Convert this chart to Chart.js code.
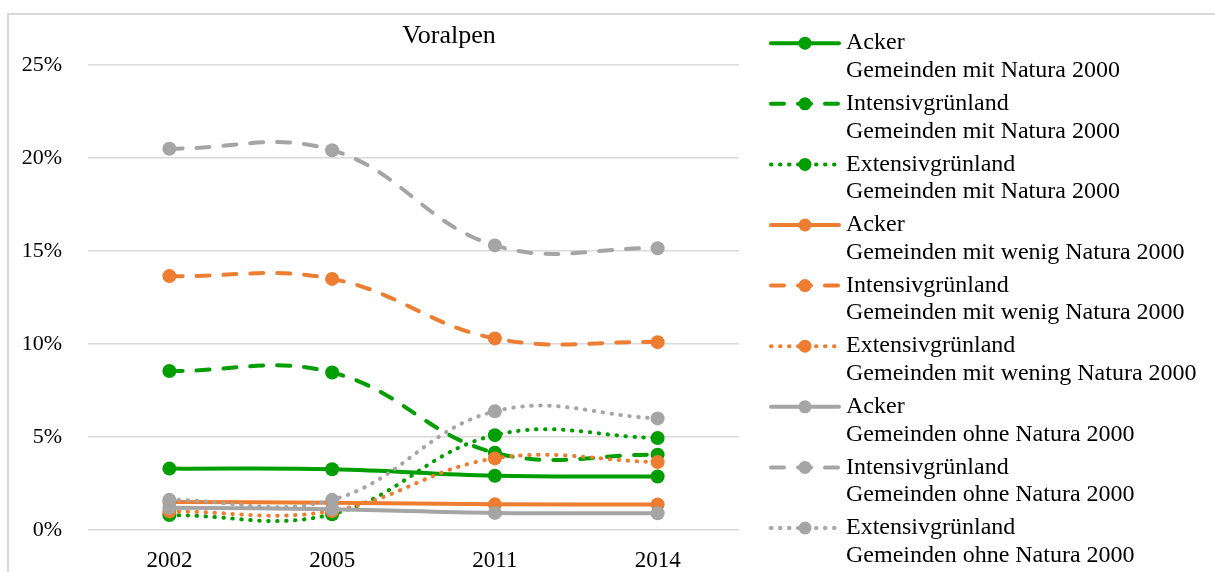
<!DOCTYPE html>
<html>
<head>
<meta charset="utf-8">
<script src="https://cdn.jsdelivr.net/npm/chart.js@4.4.1/dist/chart.umd.min.js"></script>
<style>
  html, body { margin: 0; padding: 0; background: #fff; }
  #wrap { width: 1215px; height: 572px; }
</style>
</head>
<body>
<div id="wrap"><canvas id="chart" width="1215" height="572"></canvas></div>
<script>
// categories and values (percent)
const years = ['2002', '2005', '2011', '2014'];

const ackerMit = [3.3, 3.27, 2.92, 2.88];
const intensivMit = [8.55, 8.47, 4.15, 4.05];
const extensivMit = [0.8, 0.85, 5.1, 4.95];

const ackerWenig = [1.5, 1.47, 1.38, 1.37];
const intensivWenig = [13.65, 13.5, 10.3, 10.1];
const extensivWenig = [1.0, 1.02, 3.85, 3.65];

const ackerOhne = [1.2, 1.12, 0.92, 0.9];
const intensivOhne = [20.5, 20.42, 15.3, 15.15];
const extensivOhne = [1.62, 1.62, 6.38, 6.0];

const seriesNames = [
  ['Acker', 'Gemeinden mit Natura 2000'],
  ['Intensivgrünland', 'Gemeinden mit Natura 2000'],
  ['Extensivgrünland', 'Gemeinden mit Natura 2000'],
  ['Acker', 'Gemeinden mit wenig Natura 2000'],
  ['Intensivgrünland', 'Gemeinden mit wenig Natura 2000'],
  ['Extensivgrünland', 'Gemeinden mit wening Natura 2000'],
  ['Acker', 'Gemeinden ohne Natura 2000'],
  ['Intensivgrünland', 'Gemeinden ohne Natura 2000'],
  ['Extensivgrünland', 'Gemeinden ohne Natura 2000']
];
const seriesValues = [
  ackerMit, intensivMit, extensivMit,
  ackerWenig, intensivWenig, extensivWenig,
  ackerOhne, intensivOhne, extensivOhne
];
const chartTitle = 'Voralpen';

const GREEN = '#009e00';
const ORANGE = '#ed7d31';
const GRAY = '#a5a5a5';
const colors = [GREEN, ORANGE, GRAY];
const dashes = [[], [13, 14], [0.5, 8.5]];
const FONT = '"Liberation Serif", "Times New Roman", serif';

const datasets = seriesValues.map(function (vals, i) {
  const color = colors[Math.floor(i / 3)];
  return {
    label: seriesNames[i].join(' '),
    data: vals,
    borderColor: color,
    backgroundColor: color,
    borderWidth: 4,
    borderDash: dashes[i % 3],
    borderCapStyle: 'round',
    borderJoinStyle: 'round',
    tension: 0.4,
    pointRadius: 7,
    pointHoverRadius: 7,
    pointBorderWidth: 0,
    pointBackgroundColor: color,
    order: 8 - i,
    fill: false
  };
});

// frame, title and the two-line legend on the right
const decorations = {
  id: 'decorations',
  beforeDraw(chart) {
    const ctx = chart.ctx;
    ctx.save();
    ctx.fillStyle = '#fff';
    ctx.fillRect(0, 0, chart.width, chart.height);
    ctx.strokeStyle = '#d9d9d9';
    ctx.lineWidth = 2;
    ctx.strokeRect(8, 14, 1400, 800);
    ctx.restore();
  },
  afterDraw(chart) {
    const ctx = chart.ctx;
    ctx.save();
    ctx.fillStyle = '#000';
    ctx.textBaseline = 'middle';
    ctx.textAlign = 'center';
    ctx.font = '26px ' + FONT;
    ctx.fillText(chartTitle, 449, 36);

    ctx.textAlign = 'left';
    ctx.font = '24px ' + FONT;
    chart.data.datasets.forEach(function (ds, i) {
      const y = 43.2 + i * 60.6;
      ctx.strokeStyle = ds.borderColor;
      ctx.lineWidth = ds.borderWidth;
      ctx.lineCap = ds.borderCapStyle;
      ctx.setLineDash(ds.borderDash);
      ctx.beginPath();
      ctx.moveTo(771, y);
      ctx.lineTo(839, y);
      ctx.stroke();
      ctx.setLineDash([]);
      ctx.fillStyle = ds.pointBackgroundColor;
      ctx.beginPath();
      ctx.arc(805, y, ds.pointRadius - 0.5, 0, Math.PI * 2);
      ctx.fill();
      ctx.fillStyle = '#000';
      ctx.fillText(seriesNames[i][0], 846, y);
      ctx.fillText(seriesNames[i][1], 846, y + 27.6);
    });
    ctx.restore();
  }
};

new Chart(document.getElementById('chart'), {
  type: 'line',
  data: { labels: years, datasets: datasets },
  options: {
    responsive: false,
    devicePixelRatio: 1,
    animation: false,
    layout: { padding: { left: 0, right: 476, top: 65, bottom: 0 } },
    plugins: {
      legend: { display: false },
      title: { display: false },
      tooltip: { enabled: false }
    },
    scales: {
      x: {
        offset: true,
        grid: { display: false },
        border: { display: false },
        ticks: { color: '#000', font: { family: FONT, size: 23 }, padding: 9 },
        afterFit: function (scale) { scale.height = 42; }
      },
      y: {
        min: 0,
        max: 25,
        grid: { color: '#d9d9d9', lineWidth: 1.5, drawTicks: false },
        border: { display: false },
        ticks: {
          stepSize: 5,
          color: '#000',
          padding: 26,
          font: { family: FONT, size: 22 },
          callback: function (v) { return v + '%'; }
        },
        afterFit: function (scale) { scale.width = 88; }
      }
    }
  },
  plugins: [decorations]
});
</script>
</body>
</html>
